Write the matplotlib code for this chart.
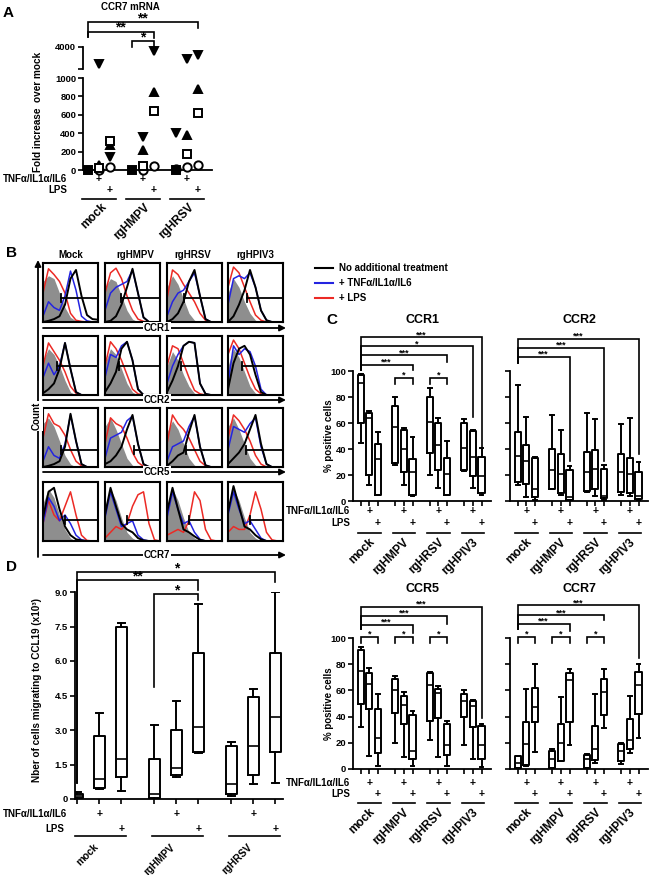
import numpy as np
import matplotlib
matplotlib.use('Agg')
import matplotlib.pyplot as plt

plt.rcParams['font.family'] = ['Liberation Sans', 'DejaVu Sans']
plt.rcParams['font.weight'] = 'bold'
plt.rcParams['axes.linewidth'] = 1.3
plt.rcParams['xtick.major.width'] = 1.2
plt.rcParams['ytick.major.width'] = 1.2
plt.rcParams['xtick.major.size'] = 3.5
plt.rcParams['ytick.major.size'] = 3.5
plt.rcParams['xtick.labelsize'] = 6.8
plt.rcParams['ytick.labelsize'] = 6.8
plt.rcParams['xtick.major.pad'] = 1.5
plt.rcParams['ytick.major.pad'] = 1.5

nan = np.nan

# ---------------- A : CCR7 mRNA (fold increase over mock) ----------------
a_groups = ['mock', 'rgHMPV', 'rgHRSV']
# conditions: mock -, TNF, LPS | rgHMPV -, TNF, LPS | rgHRSV -, TNF, LPS
a_sq_filled = [1, nan, nan, 1, nan, nan, 1, nan, nan]
a_circle = [nan, 5, 30, nan, 5, 40, 10, 35, 50]
a_tri_up = [nan, 50, 270, nan, 220, 850, nan, 380, 880]
a_tri_down = [nan, 1650, 140, nan, 360, 3450, 400, 2350, 2900]
a_sq_open = [nan, 20, 320, nan, 40, 640, nan, 170, 620]

# ---------------- B : flow histograms ----------------
b_cols = ['Mock', 'rgHMPV', 'rgHRSV', 'rgHPIV3']
b_rows = ['CCR1', 'CCR2', 'CCR5', 'CCR7']
hist_x = [0, 0.1, 0.2, 0.3, 0.4, 0.5, 0.6, 0.7, 0.8, 0.9, 1.0]

ccr1_gray = [[0.70, 0.80, 0.75, 0.50, 0.25, 0.08, 0.02, 0, 0, 0, 0],
             [0.60, 0.75, 0.70, 0.45, 0.20, 0.05, 0, 0, 0, 0, 0],
             [0.60, 0.80, 0.65, 0.40, 0.15, 0.03, 0, 0, 0, 0, 0],
             [0.50, 0.75, 0.60, 0.35, 0.15, 0.03, 0, 0, 0, 0, 0]]
ccr1_red = [[0.50, 0.92, 0.82, 0.70, 0.50, 0.15, 0.03, 0.01, 0, 0, 0],
            [0.50, 0.85, 0.93, 0.75, 0.45, 0.20, 0.05, 0.01, 0, 0, 0],
            [0.40, 0.90, 0.82, 0.65, 0.50, 0.35, 0.15, 0.03, 0, 0, 0],
            [0.60, 0.95, 0.85, 0.60, 0.35, 0.12, 0.03, 0, 0, 0, 0]]
ccr1_blue = [[0.10, 0.35, 0.25, 0.20, 0.45, 0.88, 0.55, 0.10, 0.02, 0, 0],
             [0.20, 0.50, 0.60, 0.65, 0.70, 0.90, 0.50, 0.08, 0, 0, 0],
             [0.10, 0.35, 0.50, 0.55, 0.70, 0.85, 0.45, 0.05, 0, 0, 0],
             [0.30, 0.75, 0.80, 0.75, 0.85, 0.60, 0.20, 0.03, 0, 0, 0]]
ccr1_black = [[0, 0.02, 0.05, 0.10, 0.30, 0.75, 0.90, 0.45, 0.12, 0.05, 0.04],
              [0, 0.02, 0.10, 0.30, 0.60, 0.92, 0.50, 0.08, 0, 0, 0],
              [0, 0.05, 0.15, 0.35, 0.70, 0.90, 0.45, 0.05, 0, 0, 0],
              [0, 0.10, 0.30, 0.55, 0.90, 0.60, 0.20, 0.03, 0, 0, 0]]

ccr2_gray = [[0.60, 0.80, 0.70, 0.50, 0.25, 0.05, 0, 0, 0, 0, 0],
             [0.55, 0.80, 0.70, 0.45, 0.20, 0.05, 0, 0, 0, 0, 0],
             [0.50, 0.75, 0.60, 0.35, 0.15, 0.03, 0, 0, 0, 0, 0],
             [0.50, 0.80, 0.65, 0.40, 0.15, 0.03, 0, 0, 0, 0, 0]]
ccr2_red = [[0.50, 0.90, 0.75, 0.60, 0.40, 0.15, 0.03, 0, 0, 0, 0],
            [0.50, 0.92, 0.80, 0.60, 0.35, 0.10, 0.02, 0, 0, 0, 0],
            [0.50, 0.85, 0.80, 0.55, 0.30, 0.08, 0.02, 0, 0, 0, 0],
            [0.70, 0.95, 0.80, 0.55, 0.30, 0.10, 0.02, 0, 0, 0, 0]]
ccr2_blue = [[0.30, 0.55, 0.35, 0.50, 0.90, 0.45, 0.05, 0, 0, 0, 0],
             [0.30, 0.70, 0.65, 0.85, 0.92, 0.60, 0.10, 0, 0, 0, 0],
             [0.20, 0.50, 0.70, 0.85, 0.92, 0.90, 0.20, 0.02, 0, 0, 0],
             [0.20, 0.85, 0.70, 0.80, 0.75, 0.50, 0.10, 0, 0, 0, 0]]
ccr2_black = [[0.03, 0.10, 0.20, 0.45, 0.90, 0.45, 0.05, 0, 0, 0, 0],
              [0.05, 0.20, 0.40, 0.80, 0.92, 0.60, 0.10, 0, 0, 0, 0],
              [0.05, 0.25, 0.50, 0.85, 0.92, 0.90, 0.20, 0.02, 0, 0, 0],
              [0.10, 0.55, 0.80, 0.85, 0.70, 0.35, 0.05, 0, 0, 0, 0]]

ccr5_gray = [[0.75, 0.85, 0.70, 0.45, 0.20, 0.05, 0, 0, 0, 0, 0],
             [0.70, 0.85, 0.65, 0.40, 0.15, 0.03, 0, 0, 0, 0, 0],
             [0.60, 0.80, 0.65, 0.40, 0.15, 0.03, 0, 0, 0, 0, 0],
             [0.70, 0.85, 0.65, 0.40, 0.15, 0.03, 0, 0, 0, 0, 0]]
ccr5_red = [[0.50, 0.92, 0.75, 0.70, 0.55, 0.30, 0.10, 0.02, 0, 0, 0],
            [0.40, 0.85, 0.75, 0.70, 0.50, 0.25, 0.08, 0.01, 0, 0, 0],
            [0.40, 0.90, 0.75, 0.65, 0.50, 0.30, 0.10, 0.02, 0, 0, 0],
            [0.50, 0.90, 0.80, 0.65, 0.45, 0.20, 0.05, 0, 0, 0, 0]]
ccr5_blue = [[0.10, 0.35, 0.20, 0.15, 0.40, 0.90, 0.45, 0.05, 0, 0, 0],
             [0.15, 0.50, 0.55, 0.60, 0.80, 0.88, 0.40, 0.05, 0, 0, 0],
             [0.10, 0.35, 0.40, 0.45, 0.70, 0.88, 0.35, 0.03, 0, 0, 0],
             [0.30, 0.70, 0.65, 0.60, 0.75, 0.85, 0.35, 0.05, 0, 0, 0]]
ccr5_black = [[0, 0.02, 0.05, 0.10, 0.35, 0.92, 0.45, 0.05, 0, 0, 0],
              [0.05, 0.10, 0.20, 0.35, 0.65, 0.90, 0.40, 0.05, 0, 0, 0],
              [0.02, 0.10, 0.20, 0.25, 0.60, 0.90, 0.35, 0.03, 0, 0, 0],
              [0.05, 0.15, 0.25, 0.40, 0.65, 0.90, 0.40, 0.05, 0, 0, 0]]

ccr7_gray = [[0.65, 0.90, 0.75, 0.45, 0.20, 0.05, 0, 0, 0, 0, 0],
             [0.60, 0.90, 0.70, 0.40, 0.15, 0.05, 0, 0, 0, 0, 0],
             [0.60, 0.90, 0.70, 0.40, 0.15, 0.05, 0, 0, 0, 0, 0],
             [0.60, 0.90, 0.70, 0.40, 0.15, 0.05, 0, 0, 0, 0, 0]]
ccr7_red = [[0.30, 0.70, 0.45, 0.35, 0.60, 0.85, 0.45, 0.10, 0.01, 0, 0],
            [0.05, 0.15, 0.25, 0.20, 0.30, 0.60, 0.80, 0.85, 0.30, 0.02, 0],
            [0.10, 0.15, 0.20, 0.15, 0.35, 0.85, 0.70, 0.20, 0.02, 0, 0],
            [0.15, 0.25, 0.20, 0.20, 0.45, 0.85, 0.55, 0.15, 0.02, 0, 0]]
ccr7_blue = [[0.30, 0.75, 0.60, 0.35, 0.45, 0.30, 0.10, 0.02, 0, 0, 0],
             [0.40, 0.85, 0.55, 0.25, 0.30, 0.35, 0.10, 0.02, 0, 0, 0],
             [0.40, 0.85, 0.55, 0.30, 0.35, 0.15, 0.03, 0, 0, 0, 0],
             [0.45, 0.85, 0.55, 0.30, 0.35, 0.20, 0.05, 0, 0, 0, 0]]
ccr7_black = [[0.40, 0.85, 0.92, 0.55, 0.25, 0.10, 0.03, 0.01, 0, 0, 0],
              [0.45, 0.92, 0.60, 0.30, 0.20, 0.15, 0.05, 0.01, 0, 0, 0],
              [0.50, 0.92, 0.55, 0.20, 0.15, 0.08, 0.02, 0, 0, 0, 0],
              [0.50, 0.95, 0.60, 0.25, 0.20, 0.10, 0.03, 0, 0, 0, 0]]

gate_x = [[0.32, 0.29, 0.30, 0.35],
          [0.25, 0.25, 0.25, 0.25],
          [0.33, 0.53, 0.35, 0.33],
          [0.40, 0.40, 0.40, 0.40]]
gate_y = [0.42, 0.50, 0.30, 0.37]

# ---------------- C : % positive cells (box: min, q1, median, q3, max) ----------------
c_groups = ['mock', 'rgHMPV', 'rgHRSV', 'rgHPIV3']
ccr1_min = [45, 12, 5, 28, 12, 4, 20, 10, 5, 23, 10, 5]
ccr1_q1 = [60, 20, 5, 29, 22, 5, 37, 24, 5, 24, 19, 6]
ccr1_med = [91, 64, 32, 57, 40, 22, 61, 43, 21, 41, 34, 19]
ccr1_q3 = [97, 68, 44, 73, 55, 32, 80, 60, 33, 60, 54, 34]
ccr1_max = [98, 69, 53, 80, 56, 49, 87, 64, 46, 63, 55, 41]

ccr2_min = [12, 3, 1, 9, 5, 0.5, 7, 4, 1, 5, 4, 1]
ccr2_q1 = [15, 13, 3, 9, 6, 1, 8, 9, 2, 7, 6, 1.5]
ccr2_med = [35, 31, 9, 24, 21, 3, 22, 25, 4, 22, 21, 4]
ccr2_q3 = [53, 43, 33, 40, 36, 24, 38, 39, 25, 36, 33, 22]
ccr2_max = [89, 65, 34, 66, 55, 27, 68, 63, 28, 59, 64, 30]

ccr5_min = [32, 10, 2, 20, 9, 2, 22, 9, 2, 18, 8, 1.5]
ccr5_q1 = [50, 46, 12, 43, 34, 8, 37, 39, 11, 40, 32, 8]
ccr5_med = [75, 65, 23.5, 60, 49, 14, 64, 58, 18, 52, 48, 18.5]
ccr5_q3 = [91, 73, 45.5, 69, 56, 41, 73, 61, 34, 57, 52, 32.5]
ccr5_max = [93, 77, 57, 71, 59, 44, 74, 63, 37, 60, 53, 34]

ccr7_min = [0.5, 2.5, 13, 0.5, 6, 18, 0.5, 4.6, 31, 4, 12, 24]
ccr7_q1 = [1, 3, 36, 1, 6, 36, 1, 7, 41, 6.4, 15, 42]
ccr7_med = [4.5, 19, 47, 8, 20, 68, 8, 15, 59, 14, 22, 64]
ccr7_q3 = [10, 36, 62, 14, 34, 73, 11, 32.5, 69, 19, 38, 74]
ccr7_max = [10, 61, 80, 15, 55, 76, 11.5, 57, 76, 20, 56, 80]

# ---------------- D : migration to CCL19 ----------------
d_groups = ['mock', 'rgHMPV', 'rgHRSV']
d_min = [0, 0.45, 0.35, 0, 0.95, 2.0, 0.15, 0.65, 0.7]
d_q1 = [0.05, 0.5, 0.95, 0.05, 1.05, 2.05, 0.2, 1.05, 2.05]
d_med = [0.12, 0.85, 1.75, 0.2, 1.35, 3.15, 0.65, 2.3, 3.55]
d_q3 = [0.22, 2.75, 7.5, 1.75, 3.0, 6.35, 2.3, 4.45, 6.35]
d_max = [0.3, 3.75, 7.65, 3.2, 4.25, 8.5, 2.5, 4.8, 9.0]

W, H = 651, 875
fig = plt.figure(figsize=(W / 100, H / 100), dpi=100)


def px_axes(left, top, width, height):
    return fig.add_axes([left / W, 1 - (top + height) / H, width / W, height / H])


ov = px_axes(0, 0, W, H)
ov.set_xlim(0, W)
ov.set_ylim(H, 0)
ov.axis('off')
ov.set_zorder(20)


def bracket(ax, x1, x2, y, y1, y2, label, fs=6.5):
    ax.plot([x1, x1, x2, x2], [y1, y, y, y2], color='black', lw=1.2,
            clip_on=False, solid_joinstyle='miter')
    ax.text((x1 + x2) / 2, y, label, ha='center', va='baseline', fontsize=fs, clip_on=False)


def treatment_rows(ax, ax_h, starts, tnf_dy, lps_dy, line_dy, name_dy, groups,
                   line_l, line_r, name_dx, name_fs):
    tr = ax.get_xaxis_transform()
    for g, name in zip(starts, groups):
        ax.text(g + 1, -tnf_dy / ax_h, '+', transform=tr, ha='center', va='center',
                fontsize=7.5, clip_on=False)
        ax.text(g + 2, -lps_dy / ax_h, '+', transform=tr, ha='center', va='center',
                fontsize=7.5, clip_on=False)
        ax.plot([g + line_l, g + line_r], [-line_dy / ax_h] * 2, transform=tr,
                color='black', lw=1.2, clip_on=False)
        ax.text(g + name_dx, -name_dy / ax_h, name, transform=tr, rotation=45,
                ha='right', va='top', fontsize=name_fs, clip_on=False)


# ======================= A =======================
a_pos = np.array([0, 1, 2, 4, 5, 6, 8, 9, 10])
axA = px_axes(83, 78, 129, 92)
axA_top = px_axes(83, 47, 129, 22)
for ax in (axA, axA_top):
    ax.set_xlim(-0.45, 11.3)
    ax.spines['top'].set_visible(False)
    ax.spines['right'].set_visible(False)
    ax.set_xticks([])
axA.set_ylim(0, 1000)
axA.set_yticks([0, 200, 400, 600, 800, 1000])
axA_top.set_ylim(1000, 4000)
axA_top.spines['bottom'].set_visible(False)
axA_top.set_yticks([1000, 4000])
axA_top.set_yticklabels(['', '4000'])

a_series = [(a_circle, 'o', 'white', 6), (a_tri_up, '^', 'black', 6),
            (a_tri_down, 'v', 'black', 6), (a_sq_open, 's', 'white', 5.5),
            (a_sq_filled, 's', 'black', 5.5)]
for vals, mk, fc, ms in a_series:
    v = np.array(vals, float)
    low = v <= 1000
    high = v > 1000
    axA.plot(a_pos[low], v[low], ls='none', marker=mk, mfc=fc, mec='black', mew=1.4,
             ms=ms, clip_on=False, zorder=4)
    axA_top.plot(a_pos[high], v[high], ls='none', marker=mk, mfc=fc, mec='black', mew=1.4,
                 ms=ms, clip_on=False, zorder=4)

bracket(axA_top, 0, 10, 7400, 5400, 6600, '**', fs=10)
bracket(axA_top, 0, 6, 6050, 5400, 5230, '**', fs=10)
bracket(axA_top, 4, 6, 4820, 4000, 4000, '*', fs=10)

treatment_rows(axA, 92, [0, 4, 8], 9, 20, 29, 31, a_groups, -0.5, 2.6, 1.9, 8.5)
ov.text(3, 179, 'TNFα/IL1α/IL6', ha='left', va='center', fontsize=7)
ov.text(67, 190, 'LPS', ha='right', va='center', fontsize=7)
ov.text(130, 7, 'CCR7 mRNA', ha='center', va='center', fontsize=7)
ov.text(38, 112, 'Fold increase  over mock', rotation=90, ha='center', va='center', fontsize=7.2)
ov.text(3, 13, 'A', ha='left', va='center', fontsize=11)

# ======================= B =======================
hist_gray = [ccr1_gray, ccr2_gray, ccr5_gray, ccr7_gray]
hist_red = [ccr1_red, ccr2_red, ccr5_red, ccr7_red]
hist_blue = [ccr1_blue, ccr2_blue, ccr5_blue, ccr7_blue]
hist_black = [ccr1_black, ccr2_black, ccr5_black, ccr7_black]
b_left = [43, 105, 167, 228]
b_top = [263, 336, 408, 482]
for r in range(4):
    for c in range(4):
        ax = px_axes(b_left[c], b_top[r], 55, 59)
        ax.fill_between(hist_x, hist_gray[r][c], color='#8e8e8e', lw=0)
        ax.plot(hist_x, hist_red[r][c], color='#ec2a25', lw=1.1)
        ax.plot(hist_x, hist_blue[r][c], color='#2424e0', lw=1.1)
        ax.plot(hist_x, hist_black[r][c], color='black', lw=1.4)
        gx, gy = gate_x[r][c], gate_y[r]
        ax.plot([gx, 1], [gy, gy], color='black', lw=1.3)
        ax.plot([gx, gx], [gy - 0.07, gy + 0.07], color='black', lw=1.3)
        ax.set_xlim(0, 1)
        ax.set_ylim(0, 1.02)
        ax.set_xticks([])
        ax.set_yticks([])
        for s in ax.spines.values():
            s.set_linewidth(1.5)

for name, x in zip(b_cols, [71, 135, 193, 255]):
    ov.text(x, 255, name, ha='center', va='center', fontsize=7)
for name, y in zip(b_rows, [328, 400, 472, 555]):
    ov.annotate('', xy=(286, y), xytext=(43, y),
                arrowprops=dict(arrowstyle='-|>', color='black', lw=1.3, mutation_scale=9,
                                shrinkA=0, shrinkB=0))
    ov.text(157, y, name, ha='center', va='center', fontsize=7,
            bbox=dict(facecolor='white', edgecolor='none', pad=0.6))
ov.annotate('', xy=(38, 260), xytext=(38, 557),
            arrowprops=dict(arrowstyle='-|>', color='black', lw=1.3, mutation_scale=9,
                            shrinkA=0, shrinkB=0))
ov.text(37, 416, 'Count', rotation=90, ha='center', va='center', fontsize=7,
        bbox=dict(facecolor='white', edgecolor='none', pad=0.6))
ov.text(6, 253, 'B', ha='left', va='center', fontsize=11)

# legend
for y, col, lab in [(268, 'black', 'No additional treatment'),
                    (283, '#2424e0', '+ TNFα/IL1α/IL6'),
                    (298, '#ec2a25', '+ LPS')]:
    ov.plot([315, 333], [y, y], color=col, lw=1.5)
    ov.text(339, y, lab, ha='left', va='center', fontsize=7)

# ======================= C =======================
c_pos = [0, 1, 2, 4, 5, 6, 8, 9, 10, 12, 13, 14]
c_starts = [0, 4, 8, 12]


def c_panel(left, zero_y, top_y, title, mins, q1s, meds, q3s, maxs, brackets, first_col, rows):
    h = zero_y - top_y
    ax = px_axes(left, top_y, 138, h)
    stats = [dict(whislo=a, q1=b, med=m, q3=d, whishi=e, fliers=[])
             for a, b, m, d, e in zip(mins, q1s, meds, q3s, maxs)]
    ax.bxp(stats, positions=c_pos, widths=0.72, showfliers=False, capwidths=0.45,
           boxprops=dict(lw=1.4), whiskerprops=dict(lw=1.4), capprops=dict(lw=1.4),
           medianprops=dict(color='black', lw=1.2))
    ax.set_xlim(-0.9, 15.1)
    ax.set_ylim(0, 100)
    ax.spines['top'].set_visible(False)
    ax.spines['right'].set_visible(False)
    ax.set_xticks(c_pos)
    ax.set_xticklabels([])
    ax.set_yticks([0, 20, 40, 60, 80, 100])
    if not first_col:
        ax.set_yticklabels([])
    for x1, x2, y, y1, y2, lab in brackets:
        bracket(ax, x1, x2, y, y1, y2, lab)
    tnf_dy, lps_dy, line_dy = rows
    treatment_rows(ax, h, c_starts, tnf_dy, lps_dy, line_dy, line_dy + 3, c_groups,
                   -0.3, 2.3, 1.9, 8.5)
    ov.text(left + 69, top_y - 51 if zero_y < 600 else top_y - 49, title,
            ha='center', va='center', fontsize=9)
    if first_col:
        ov.text(350, zero_y + tnf_dy, 'TNFα/IL1α/IL6', ha='right', va='center', fontsize=7)
        ov.text(350, zero_y + lps_dy, 'LPS', ha='right', va='center', fontsize=7)
        ov.text(329, (zero_y + top_y) / 2, '% positive cells', rotation=90,
                ha='center', va='center', fontsize=7)
    return ax


ccr1_br = [(0, 14, 126, 101, 41.5, '***'), (0, 13, 119, 101, 65, '*'),
           (0, 10, 112, 101, 107, '***'), (0, 6, 105, 101, 101, '***'),
           (4, 6, 95, 90, 90, '*'), (8, 10, 95, 90, 90, '*')]
ccr2_br = [(0, 14, 125, 106, 36, '***'), (0, 10, 118, 106, 31, '***'),
           (0, 6, 111, 106, 31, '***')]
ccr5_br = [(0, 14, 124, 107, 39, '***'), (0, 10, 117, 107, 111, '***'),
           (0, 6, 110, 107, 104, '***'), (0, 2, 101, 96, 96, '*'),
           (4, 6, 101, 96, 96, '*'), (8, 10, 101, 96, 96, '*')]
ccr7_br = [(0, 14, 125, 107, 85, '***'), (0, 10, 117.5, 107, 113.5, '***'),
           (0, 6, 110.7, 107, 105.6, '***'), (0, 2, 101, 96, 96, '*'),
           (4, 6, 101, 96, 96, '*'), (8, 10, 101, 96, 96, '*')]

c_panel(353, 501, 371, 'CCR1', ccr1_min, ccr1_q1, ccr1_med, ccr1_q3, ccr1_max, ccr1_br, True, (10, 22, 32))
c_panel(510, 501, 371, 'CCR2', ccr2_min, ccr2_q1, ccr2_med, ccr2_q3, ccr2_max, ccr2_br, False, (10, 22, 32))
c_panel(353, 769, 638, 'CCR5', ccr5_min, ccr5_q1, ccr5_med, ccr5_q3, ccr5_max, ccr5_br, True, (14, 25, 34))
c_panel(510, 769, 638, 'CCR7', ccr7_min, ccr7_q1, ccr7_med, ccr7_q3, ccr7_max, ccr7_br, False, (14, 25, 34))
ov.text(326, 320, 'C', ha='left', va='center', fontsize=11)

# ======================= D =======================
d_pos = [0, 1, 2, 3.5, 4.5, 5.5, 7, 8, 9]
axD = px_axes(75, 592, 208, 207)
d_stats = [dict(whislo=a, q1=b, med=m, q3=d, whishi=e, fliers=[])
           for a, b, m, d, e in zip(d_min, d_q1, d_med, d_q3, d_max)]
axD.bxp(d_stats, positions=d_pos, widths=0.5, showfliers=False, capwidths=0.3,
        boxprops=dict(lw=1.4), whiskerprops=dict(lw=1.4), capprops=dict(lw=1.4),
        medianprops=dict(color='black', lw=1.2))
axD.set_xlim(-0.1, 9.35)
axD.set_ylim(0, 9)
axD.spines['top'].set_visible(False)
axD.spines['right'].set_visible(False)
axD.set_xticks(d_pos)
axD.set_xticklabels([])
axD.set_yticks([0, 1.5, 3.0, 4.5, 6.0, 7.5, 9.0])
axD.set_yticklabels(['0', '1.5', '3.0', '4.5', '6.0', '7.5', '9.0'])
bracket(axD, 0, 9, 9.87, 0.7, 9.45, '*', fs=10)
bracket(axD, 0, 5.5, 9.52, 0.7, 9.09, '**', fs=10)
bracket(axD, 3.5, 5.5, 8.9, 4.87, 8.65, '*', fs=10)
treatment_rows(axD, 207, [0, 3.5, 7], 15, 30, 37, 43, d_groups, -0.1, 2.2, 1.05, 7.3)
ov.text(3, 814, 'TNFα/IL1α/IL6', ha='left', va='center', fontsize=7)
ov.text(64, 829, 'LPS', ha='right', va='center', fontsize=7)
ov.text(37, 690, 'Nber of cells migrating to CCL19 (x10³)', rotation=90,
        ha='center', va='center', fontsize=7.2)
ov.text(6, 567, 'D', ha='left', va='center', fontsize=11)

fig.savefig('out.png', dpi=100)
